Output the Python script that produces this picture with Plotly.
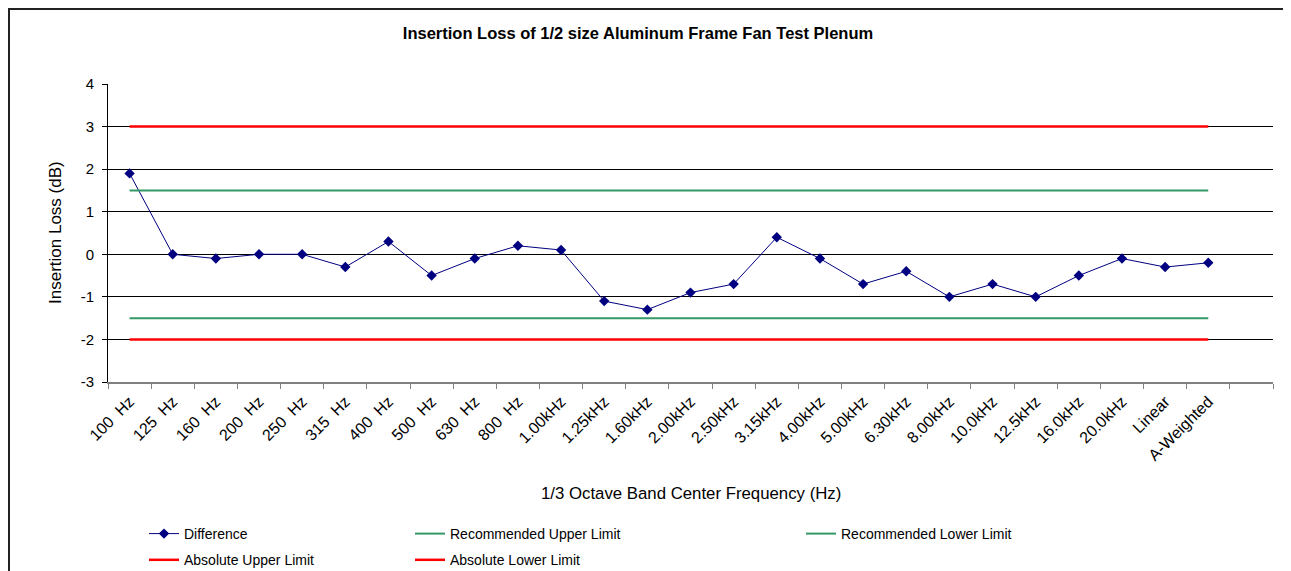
import plotly.graph_objects as go

categories = ["100  Hz", "125  Hz", "160  Hz", "200  Hz", "250  Hz", "315  Hz", "400  Hz",
              "500  Hz", "630  Hz", "800  Hz", "1.00kHz", "1.25kHz", "1.60kHz", "2.00kHz",
              "2.50kHz", "3.15kHz", "4.00kHz", "5.00kHz", "6.30kHz", "8.00kHz", "10.0kHz",
              "12.5kHz", "16.0kHz", "20.0kHz", "Linear", "A-Weighted"]
axis_categories = categories + [" "]

difference = [1.9, 0.0, -0.1, 0.0, 0.0, -0.3, 0.3, -0.5, -0.1, 0.2, 0.1, -1.1, -1.3,
              -0.9, -0.7, 0.4, -0.1, -0.7, -0.4, -1.0, -0.7, -1.0, -0.5, -0.1, -0.3, -0.2]

recommended_upper = 1.5
recommended_lower = -1.5
absolute_upper = 3.0
absolute_lower = -2.0

y_ticks = [4, 3, 2, 1, 0, -1, -2, -3]

W, H = 1283, 563
ML, MR, MT, MB = 100, 18, 76, 189
FONT = "Liberation Sans, Arial, sans-serif"
NAVY = "#000080"
GREEN = "#339966"
RED = "#FF0000"

plot_h = H - MT - MB
plot_w = W - ML - MR

fig = go.Figure()

fig.add_trace(go.Scatter(
    x=categories, y=difference, name="Difference", mode="lines+markers",
    line=dict(color=NAVY, width=1),
    marker=dict(symbol="diamond", size=8, color=NAVY),
    legend="legend", legendgroup="g1"))
fig.add_trace(go.Scatter(
    x=categories, y=[recommended_upper] * len(categories), name="Recommended Upper Limit",
    mode="lines", line=dict(color=GREEN, width=2), legend="legend2", legendgroup="g2"))
fig.add_trace(go.Scatter(
    x=categories, y=[recommended_lower] * len(categories), name="Recommended Lower Limit",
    mode="lines", line=dict(color=GREEN, width=2), legend="legend3", legendgroup="g3"))
fig.add_trace(go.Scatter(
    x=categories, y=[absolute_upper] * len(categories), name="Absolute Upper Limit",
    mode="lines", line=dict(color=RED, width=2.5), legend="legend", legendgroup="g4"))
fig.add_trace(go.Scatter(
    x=categories, y=[absolute_lower] * len(categories), name="Absolute Lower Limit",
    mode="lines", line=dict(color=RED, width=2.5), legend="legend2", legendgroup="g5"))

legend_common = dict(
    orientation="v", xref="container", yref="container", xanchor="left", yanchor="top",
    y=1 - 510 / H, font=dict(family=FONT, size=14, color="#000000"),
    bgcolor="rgba(0,0,0,0)", itemwidth=30, tracegroupgap=5)

fig.update_layout(
    width=W, height=H,
    margin=dict(l=ML, r=MR, t=MT, b=MB, autoexpand=False),
    paper_bgcolor="white", plot_bgcolor="white",
    font=dict(family=FONT, size=14, color="#000000"),
    title=dict(text="<b>Insertion Loss of 1/2 size Aluminum Frame Fan Test Plenum</b>",
               font=dict(family=FONT, size=16.5, color="#000000"),
               x=(638 - 8) / W, xref="container", xanchor="center",
               y=1 - 25 / H, yref="container", yanchor="middle"),
    legend=dict(legend_common, x=136 / W),
    legend2=dict(legend_common, x=402 / W),
    legend3=dict(legend_common, x=793 / W),
    xaxis=dict(
        type="category", categoryorder="array", categoryarray=axis_categories,
        range=[-0.5, len(axis_categories) - 0.5],
        tickson="boundaries", ticks="outside", ticklen=5, tickcolor="#808080",
        showline=True, linecolor="#808080", linewidth=2,
        showgrid=False, zeroline=False, tickangle=-45, ticklabelstandoff=2,
        tickfont=dict(family=FONT, size=16, color="#000000"),
    ),
    yaxis=dict(
        range=[-3, 4], tickvals=y_ticks, ticktext=[str(v) for v in y_ticks],
        ticks="outside", ticklen=5, tickcolor="#000000",
        showline=True, linecolor="#000000", linewidth=1,
        showgrid=True, gridcolor="#000000", gridwidth=1, zeroline=False,
        ticklabelstandoff=5,
        tickfont=dict(family=FONT, size=15, color="#000000"),
    ),
)

# axis titles
fig.add_annotation(text="Insertion Loss (dB)", xref="paper", yref="paper",
                   x=(47 - ML) / plot_w, y=0.5, xanchor="center", yanchor="middle",
                   textangle=-90, showarrow=False,
                   font=dict(family=FONT, size=17, color="#000000"))
fig.add_annotation(text="1/3 Octave Band Center Frequency (Hz)", xref="paper", yref="paper",
                   x=0.5, y=-(485 - (MT + plot_h)) / plot_h, xanchor="center", yanchor="middle",
                   showarrow=False,
                   font=dict(family=FONT, size=16.8, color="#000000"))

# outer chart frame
fig.add_shape(type="rect", xref="paper", yref="paper",
              x0=(1 - ML) / plot_w, x1=(W + 10 - ML) / plot_w,
              y0=-(MB + 10) / plot_h, y1=(plot_h + MT - 1) / plot_h,
              line=dict(color="#222222", width=2), fillcolor="rgba(0,0,0,0)",
              layer="below")

fig.write_html("out.html")
